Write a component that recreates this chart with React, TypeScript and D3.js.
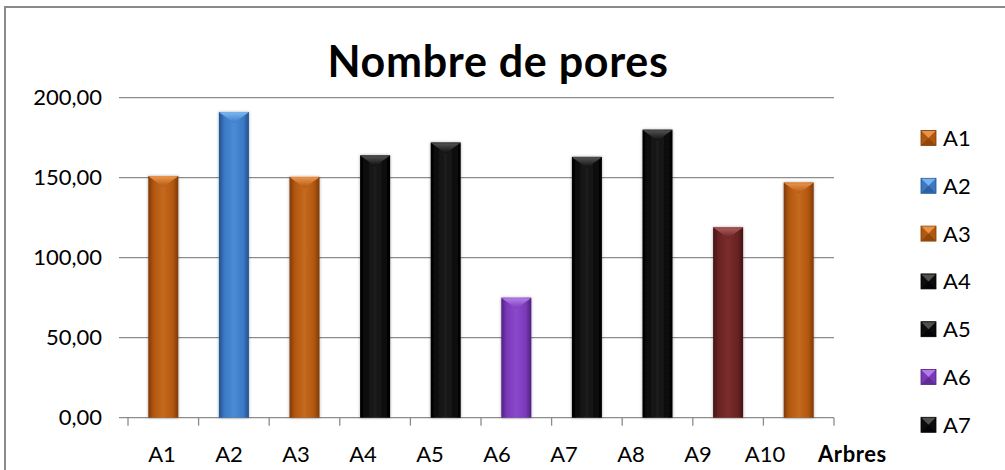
import React, { useEffect, useRef } from 'react';
import * as d3 from 'd3';

// Chart data
const categories = ['A1', 'A2', 'A3', 'A4', 'A5', 'A6', 'A7', 'A8', 'A9', 'A10'];
const values = [151, 191, 150.5, 164, 172, 75, 163, 180, 119, 147];
const barColors = ['orange', 'blue', 'orange', 'black', 'black', 'purple', 'black', 'black', 'darkred', 'orange'];
const yTicks = [0, 50, 100, 150, 200];
const titleText = 'Nombre de pores';
const xAxisTitle = 'Arbres';

// palette: [edge, base, highlight, top bevel]
const palette: Record<string, [string, string, string, string]> = {
  orange: ['#7e3a06', '#b2570f', '#c46a1e', '#e8924a'],
  blue: ['#24508e', '#3b79c4', '#4a8ad6', '#78b2ee'],
  black: ['#000000', '#0c0c0c', '#1c1c1c', '#505050'],
  purple: ['#4e1f80', '#7a3ab8', '#8a48cc', '#b27be6'],
  darkred: ['#451414', '#6a2222', '#7a2c2c', '#a85a5a'],
};

const W = 1005;
const H = 470;
const plot = { left: 128, right: 834, top: 97.7, bottom: 417.7 };
const font = 'Lato, "Open Sans", sans-serif';

const App: React.FC = () => {
  const svgRef = useRef<SVGSVGElement>(null);

  useEffect(() => {
    if (!svgRef.current) return;
    const svg = d3.select(svgRef.current);
    svg.selectAll('*').remove();

    const defs = svg.append('defs');
    Object.entries(palette).forEach(([key, [edge, base, hi, top]]) => {
      const g = defs.append('linearGradient').attr('id', `body-${key}`).attr('x1', 0).attr('x2', 1).attr('y1', 0).attr('y2', 0);
      g.append('stop').attr('offset', 0).attr('stop-color', edge);
      g.append('stop').attr('offset', 0.18).attr('stop-color', base);
      g.append('stop').attr('offset', 0.5).attr('stop-color', hi);
      g.append('stop').attr('offset', 0.82).attr('stop-color', base);
      g.append('stop').attr('offset', 1).attr('stop-color', edge);
      const t = defs.append('linearGradient').attr('id', `top-${key}`).attr('x1', 0).attr('x2', 0).attr('y1', 0).attr('y2', 1);
      t.append('stop').attr('offset', 0).attr('stop-color', top);
      t.append('stop').attr('offset', 1).attr('stop-color', base);
    });
    const shadow = defs.append('filter').attr('id', 'shadow').attr('x', '-30%').attr('y', '-10%').attr('width', '160%').attr('height', '120%');
    shadow.append('feDropShadow').attr('dx', 0).attr('dy', 0).attr('stdDeviation', 1.5).attr('flood-color', '#000').attr('flood-opacity', 0.35);

    // outer chart border
    svg.append('rect')
      .attr('x', 5).attr('y', 7).attr('width', W + 20).attr('height', H + 20)
      .attr('fill', '#fff').attr('stroke', '#8a8a8a').attr('stroke-width', 2);

    const x = d3.scaleBand<string>().domain(categories).range([plot.left, plot.right]).paddingInner(0).paddingOuter(0);
    // the category labels sit on a slightly tighter pitch than the bars
    const xLabel = d3.scalePoint<string>().domain(categories).range([162, 765]);
    const y = d3.scaleLinear().domain([0, 200]).range([plot.bottom, plot.top]);

    // gridlines + y tick marks
    svg.append('g').selectAll('line').data(yTicks).enter().append('line')
      .attr('x1', plot.left - 9).attr('x2', plot.right)
      .attr('y1', d => y(d)).attr('y2', d => y(d))
      .attr('stroke', '#8c8c8c').attr('stroke-width', 1.3);

    svg.append('g').selectAll('text').data(yTicks).enter().append('text')
      .attr('x', 102).attr('y', d => y(d)).attr('dy', '0.35em')
      .attr('text-anchor', 'end').attr('font-family', font).attr('font-size', 22).attr('fill', '#000')
      .text(d => d3.format('.2f')(d).replace('.', ','));

    // x axis ticks
    const bounds = d3.range(categories.length + 1).map(i => plot.left + i * x.step());
    svg.append('g').selectAll('line').data(bounds).enter().append('line')
      .attr('x1', d => d).attr('x2', d => d).attr('y1', plot.bottom).attr('y2', plot.bottom + 8)
      .attr('stroke', '#8c8c8c').attr('stroke-width', 1.3);

    svg.append('g').selectAll('text').data(categories).enter().append('text')
      .attr('x', d => xLabel(d) as number).attr('y', 462)
      .attr('text-anchor', 'middle').attr('font-family', font).attr('font-size', 22).attr('fill', '#000')
      .text(d => d);

    svg.append('text').attr('x', 818).attr('y', 462)
      .attr('font-family', font).attr('font-size', 22).attr('font-weight', 'bold').attr('fill', '#000')
      .attr('letter-spacing', 0.6)
      .text(xAxisTitle);

    // bars
    const bw = 30;
    const bars = svg.append('g').selectAll('g').data(categories).enter().append('g');
    bars.each(function (d, i) {
      const g = d3.select(this);
      const key = barColors[i];
      const cx = (x(d) as number) + x.bandwidth() / 2;
      const bx = cx - bw / 2;
      const top = y(values[i]);
      g.append('rect').attr('x', bx).attr('y', top).attr('width', bw).attr('height', plot.bottom - top)
        .attr('fill', `url(#body-${key})`).attr('filter', 'url(#shadow)');
      g.append('path')
        .attr('d', `M${bx + 1},${top + 1}L${bx + bw - 1},${top + 1}L${bx + bw - 4},${top + 3}L${cx},${top + 11}L${bx + 4},${top + 3}Z`)
        .attr('fill', `url(#top-${key})`);
      g.append('line').attr('x1', bx + 1).attr('x2', bx + bw - 1).attr('y1', top + 0.5).attr('y2', top + 0.5)
        .attr('stroke', palette[key][3]).attr('stroke-width', 1);
    });

    // title
    svg.append('text').attr('x', 498).attr('y', 77).attr('text-anchor', 'middle')
      .attr('font-family', font).attr('font-size', 43).attr('font-weight', 'bold').attr('fill', '#000')
      .attr('letter-spacing', 0.7)
      .text(titleText);

    // legend (entries below the visible frame are left out)
    const legendY = (i: number) => 138 + i * 47.8;
    const shown = categories.filter((_, i) => legendY(i) + 12 < H);
    const legend = svg.append('g').selectAll('g').data(shown).enter().append('g')
      .attr('transform', (d, i) => `translate(921,${legendY(i)})`);
    legend.each(function (d, i) {
      const g = d3.select(this);
      const [edge, base, , topc] = palette[barColors[i]];
      const s = 15;
      g.append('rect').attr('x', 0).attr('y', -s / 2).attr('width', s).attr('height', s).attr('fill', base).attr('stroke', edge).attr('stroke-width', 0.8);
      g.append('path').attr('d', `M0.5,${-s / 2 + 0.5}L${s - 0.5},${-s / 2 + 0.5}L${s / 2},${0}Z`).attr('fill', topc);
      g.append('path').attr('d', `M0.5,${s / 2 - 0.5}L${s - 0.5},${s / 2 - 0.5}L${s / 2},${0}Z`).attr('fill', edge).attr('opacity', 0.6);
      g.append('text').attr('x', 22).attr('y', 0).attr('dy', '0.36em')
        .attr('font-family', font).attr('font-size', 22).attr('fill', '#000').text(d);
    });
  }, []);

  return (
    <svg
      ref={svgRef}
      width={W}
      height={H}
      viewBox={`0 0 ${W} ${H}`}
      style={{ position: 'absolute', left: 0, top: 0, display: 'block' }}
    />
  );
};

export default App;
